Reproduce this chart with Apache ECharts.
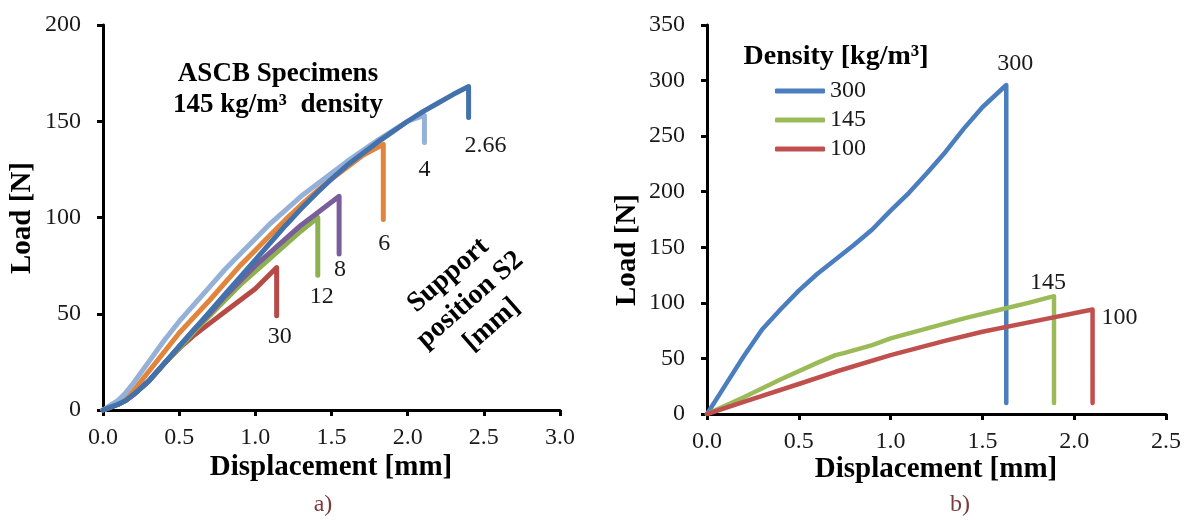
<!DOCTYPE html>
<html><head><meta charset="utf-8">
<script src="https://cdn.jsdelivr.net/npm/echarts/dist/echarts.min.js"></script>
<style>html,body{margin:0;padding:0;background:#fff}#c{width:1190px;height:520px}</style>
</head><body><div id="c"></div>
<script>
// ---------- Chart a) : ASCB specimens, 145 kg/m3, support position S2 [mm] ----------
const namesA = ['30', '12', '8', '6', '4', '2.66'];
const dispA_30   = [0, 0.05, 0.1, 0.15, 0.2, 0.3, 0.4, 0.5, 0.6, 0.7, 0.8, 0.9, 1.0, 1.14, 1.14];
const loadA_30   = [0, 1.5, 3, 5, 8, 15, 24, 32, 39, 45, 51, 57, 63, 74, 49];
const dispA_12   = [0, 0.05, 0.1, 0.15, 0.2, 0.3, 0.4, 0.5, 0.6, 0.7, 0.8, 0.9, 1.0, 1.1, 1.2, 1.3, 1.41, 1.41];
const loadA_12   = [0, 1.5, 3, 5, 8, 15, 24, 32, 41, 49, 57, 65, 72, 79, 86, 93, 100, 70];
const dispA_8    = [0, 0.05, 0.1, 0.15, 0.2, 0.3, 0.4, 0.5, 0.6, 0.7, 0.8, 0.9, 1.0, 1.1, 1.2, 1.3, 1.4, 1.55, 1.55];
const loadA_8    = [0, 1.5, 3, 5, 8, 15, 24, 33, 42, 50, 59, 67, 75, 82, 89, 96, 102, 111, 81];
const dispA_6    = [0, 0.05, 0.1, 0.15, 0.2, 0.3, 0.4, 0.5, 0.6, 0.7, 0.8, 0.9, 1.0, 1.1, 1.2, 1.3, 1.4, 1.5, 1.6, 1.7, 1.84, 1.84];
const loadA_6    = [0, 2, 4, 6.5, 10, 20, 30, 40, 48.5, 57, 66, 75, 83, 91, 99, 106.5, 113.5, 120, 126, 132, 138, 99];
const dispA_4    = [0, 0.05, 0.1, 0.15, 0.2, 0.3, 0.4, 0.5, 0.6, 0.7, 0.8, 0.9, 1.0, 1.1, 1.2, 1.3, 1.4, 1.5, 1.6, 1.7, 1.8, 1.9, 2.0, 2.11, 2.11];
const loadA_4    = [0, 2.5, 5, 9, 14, 25, 36, 46, 55, 64, 73, 81, 89, 97, 104, 111, 117, 123, 129, 134.5, 140, 145, 150, 153, 139];
const dispA_266  = [0, 0.05, 0.1, 0.15, 0.2, 0.3, 0.4, 0.5, 0.6, 0.7, 0.8, 0.9, 1.0, 1.1, 1.2, 1.3, 1.4, 1.5, 1.6, 1.7, 1.8, 1.9, 2.0, 2.1, 2.2, 2.3, 2.4, 2.4];
const loadA_266  = [0, 1.5, 3, 5, 8, 15, 24, 33, 42, 51, 60, 69, 78, 87, 96, 104.5, 112.5, 120, 127, 133, 139, 144.5, 150, 155, 159.5, 164, 168, 152];
const dispA = [dispA_30, dispA_12, dispA_8, dispA_6, dispA_4, dispA_266];
const loadA = [loadA_30, loadA_12, loadA_8, loadA_6, loadA_4, loadA_266];
const colorsA = ['#b64a46', '#8db14f', '#7a5d9b', '#e1853d', '#95b1d7', '#4271ab'];
const yTicksA = [0, 200, 50];   // min, max, interval
const xTicksA = [0, 3, 0.5];

// ---------- Chart b) : density comparison ----------
const namesB = ['300', '145', '100'];
const dispB_300 = [0, 0.1, 0.2, 0.3, 0.4, 0.5, 0.6, 0.7, 0.8, 0.9, 1.0, 1.1, 1.2, 1.3, 1.4, 1.5, 1.63, 1.63];
const loadB_300 = [0, 26, 52, 76, 94, 111, 126, 139, 152, 166, 183, 199, 217, 236, 257, 276, 296, 10];
const dispB_145 = [0, 0.2, 0.4, 0.6, 0.7, 0.75, 0.9, 1.0, 1.2, 1.4, 1.6, 1.75, 1.89, 1.89];
const loadB_145 = [0, 15, 31, 46, 53, 55, 62, 68, 77, 86, 94, 100, 106, 10];
const dispB_100 = [0, 0.2, 0.5, 0.7, 1.0, 1.3, 1.5, 1.8, 2.1, 2.1];
const loadB_100 = [0, 11, 27, 38, 53, 66, 74, 84, 94, 10];
const dispB = [dispB_300, dispB_145, dispB_100];
const loadB = [loadB_300, loadB_145, loadB_100];
const colorsB = ['#4a7ebf', '#9bbb59', '#c0504d'];
const yTicksB = [0, 350, 50];
const xTicksB = [0, 2.5, 0.5];

const FONT = "'Liberation Serif', 'DejaVu Serif', serif";
const TXT = '#1a1a1a';

function pairs(xs, ys) { return xs.map((x, i) => [x, ys[i]]); }

function axisBase(t, isX) {
  return {
    type: 'value', min: t[0], max: t[1], interval: t[2],
    splitLine: { show: false },
    axisLine: { show: true, onZero: false, lineStyle: { color: '#000', width: 3 } },
    axisTick: { show: true, inside: false, length: 6, lineStyle: { color: '#000', width: 3 } },
    axisLabel: {
      color: TXT, fontFamily: FONT, fontSize: 24, margin: isX ? 16 : 22,
      formatter: isX ? (v => v.toFixed(1)) : (v => String(v))
    }
  };
}

const series = [];
namesA.forEach((n, i) => series.push({
  name: n, type: 'line', xAxisIndex: 0, yAxisIndex: 0, symbol: 'none',
  data: pairs(dispA[i], loadA[i]), color: colorsA[i],
  lineStyle: { width: 5, color: colorsA[i], cap: 'round', join: 'round' }, z: 2 + i
}));
namesB.forEach((n, i) => series.push({
  name: n, type: 'line', xAxisIndex: 1, yAxisIndex: 1, symbol: 'none',
  data: pairs(dispB[i], loadB[i]), color: colorsB[i],
  lineStyle: { width: 4.5, color: colorsB[i], cap: 'round', join: 'round' }, z: 2 + i
}));

const chart = echarts.init(document.getElementById('c'), null, { renderer: 'canvas' });
chart.setOption({
  animation: false,
  backgroundColor: '#fff',
  grid: [
    { left: 103, top: 25, width: 457, height: 385 },
    { left: 707, top: 25, width: 459, height: 389 }
  ],
  xAxis: [Object.assign(axisBase(xTicksA, true), { gridIndex: 0 }),
          Object.assign(axisBase(xTicksB, true), { gridIndex: 1 })],
  yAxis: [Object.assign(axisBase(yTicksA, false), { gridIndex: 0 }),
          Object.assign(axisBase(yTicksB, false), { gridIndex: 1 })],
  legend: {
    data: namesB, orient: 'vertical', left: 770, top: 74,
    icon: 'roundRect', itemWidth: 50, itemHeight: 5, itemGap: 5,
    textStyle: { color: TXT, fontFamily: FONT, fontSize: 24 }
  },
  series: series
});

// annotations anchored to data points
function px(g, pt) { return chart.convertToPixel({ gridIndex: g }, pt); }
const gfx = [];
function txt(x, y, s, opt) {
  gfx.push({
    type: 'text', x: x, y: y,
    style: Object.assign({ text: s, fill: TXT, fontFamily: FONT, fontSize: 24,
      align: 'center', verticalAlign: 'middle' }, opt || {})
  });
}
const labOffA = [[3, 21], [4, 21], [1, 16], [1, 24], [0, 27], [17, 28]];
namesA.forEach((n, i) => {
  const last = dispA[i].length - 1;
  const p = px(0, [dispA[i][last], loadA[i][last]]);
  txt(p[0] + labOffA[i][0], p[1] + labOffA[i][1], n);
});
const labOffB = [[9, -21], [-6, -13], [27, 8]];
namesB.forEach((n, i) => {
  const pk = dispB[i].length - 2;
  const p = px(1, [dispB[i][pk], loadB[i][pk]]);
  txt(p[0] + labOffB[i][0], p[1] + labOffB[i][1], n);
});
txt(278, 74, 'ASCB Specimens', { fontWeight: 'bold', fontSize: 27, fill: '#000' });
txt(278, 105, '145 kg/m³  density', { fontWeight: 'bold', fontSize: 27, fill: '#000' });
txt(836, 57, 'Density [kg/m³]', { fontWeight: 'bold', fontSize: 28, fill: '#000' });
// rotated multi-line note
gfx.push({ type: 'text', x: 470, y: 300, rotation: 0.72,
  style: { text: 'Support\nposition S2\n[mm]', fill: '#000', fontFamily: FONT, fontSize: 28,
    fontWeight: 'bold', align: 'center', verticalAlign: 'middle', lineHeight: 33 } });
// axis titles
txt(331, 468, 'Displacement [mm]', { fontWeight: 'bold', fontSize: 29, fill: '#000' });
txt(936, 470, 'Displacement [mm]', { fontWeight: 'bold', fontSize: 29, fill: '#000' });
gfx.push({ type: 'text', x: 23, y: 218, rotation: Math.PI / 2,
  style: { text: 'Load [N]', fill: '#000', fontFamily: FONT, fontSize: 29, fontWeight: 'bold',
    align: 'center', verticalAlign: 'middle' } });
gfx.push({ type: 'text', x: 628, y: 250, rotation: Math.PI / 2,
  style: { text: 'Load [N]', fill: '#000', fontFamily: FONT, fontSize: 29, fontWeight: 'bold',
    align: 'center', verticalAlign: 'middle' } });
// captions
txt(323, 505, 'a)', { fill: '#7e3a3a', fontSize: 24 });
txt(960, 505, 'b)', { fill: '#7e3a3a', fontSize: 24 });

chart.setOption({ graphic: gfx });
</script></body></html>
